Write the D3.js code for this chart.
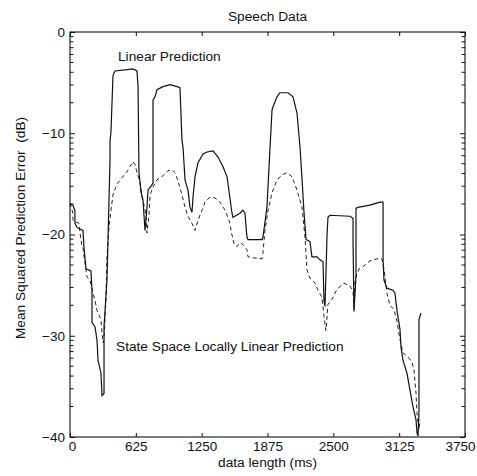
<!DOCTYPE html>
<html>
<head>
<meta charset="utf-8">
<script src="https://cdn.jsdelivr.net/npm/d3@7"></script>
<style>
  body { margin: 0; background: #fff; }
  text { font-family: "Liberation Sans", Arial, sans-serif; fill: #111; }
</style>
</head>
<body>
<div id="chart"></div>
<script>
// Speech data: mean squared prediction error vs data length //
const width = 477;
const height = 476;
const margin = { top: 32, right: 12, bottom: 39, left: 70 };

// Linear prediction (solid)
const lpTime = [0, 28, 47, 47, 66, 104, 123, 133, 152, 199, 209, 209, 237, 256, 266, 294, 304, 323, 323, 351,
  361, 380, 380, 389, 408, 427, 522, 598, 636, 646, 655, 674, 693, 712, 731, 741, 778, 788, 788, 807,
  826, 883, 949, 1016, 1044, 1063, 1073, 1092, 1111, 1120, 1139, 1158, 1168, 1187, 1215, 1263, 1301, 1358, 1405, 1453,
  1491, 1538, 1547, 1614, 1642, 1661, 1680, 1690, 1823, 1832, 1870, 1899, 1918, 1927, 1965, 1994, 2070, 2117, 2155, 2184,
  2203, 2222, 2241, 2278, 2297, 2345, 2373, 2402, 2411, 2421, 2440, 2449, 2468, 2658, 2687, 2687, 2696, 2715, 2715, 2744,
  2848, 2943, 2972, 2972, 2981, 3009, 3066, 3085, 3104, 3133, 3142, 3161, 3199, 3228, 3256, 3285, 3294, 3304, 3313, 3313, 3332];
const lpError = [-17.0, -17.1, -17.7, -18.9, -19.3, -19.5, -19.6, -21.3, -23.4, -23.6, -25.5, -28.7, -29.1, -30.4, -32.4, -33.7, -35.9, -35.7, -29.1, -24.5,
  -20.5, -12.6, -10.7, -9.9, -4.3, -3.85, -3.75, -3.65, -3.85, -5.4, -13.9, -15.8, -16.6, -19.6, -17.3, -15.6, -15.1, -14.9, -6.7, -6.4,
  -5.7, -5.4, -5.2, -5.4, -5.5, -10.7, -11.4, -14.6, -15.3, -15.6, -17.3, -17.8, -16.3, -14.3, -12.9, -12.05, -11.85, -11.75, -12.35, -13.3,
  -14.3, -17.9, -18.3, -17.9, -17.6, -17.9, -20.25, -20.5, -20.5, -20.25, -17.3, -11.4, -7.7, -7.4, -6.4, -6.0, -6.0, -6.4, -8.0, -11.4,
  -14.6, -17.9, -20.5, -20.7, -22.2, -22.2, -22.5, -22.7, -26.5, -27.1, -20.15, -18.3, -18.1, -18.2, -18.4, -20.5, -27.6, -24.1, -17.4, -17.3,
  -17.1, -16.8, -16.8, -22.5, -24.5, -25.3, -25.5, -25.8, -27.5, -29.4, -31.1, -32.4, -33.7, -35.4, -37.0, -38.3, -39.6, -39.9, -37.6, -28.4, -27.75];

// State space locally linear prediction (dashed)
const sslTime = [0, 28, 28, 66, 85, 95, 114, 123, 142, 161, 190, 218, 237, 256, 294, 304, 313, 323, 332, 342,
  351, 370, 389, 408, 446, 494, 541, 570, 598, 617, 636, 665, 684, 703, 722, 731, 750, 760, 788, 826,
  883, 930, 968, 997, 1025, 1063, 1092, 1120, 1158, 1187, 1215, 1253, 1282, 1329, 1377, 1424, 1472, 1510, 1538, 1557,
  1585, 1614, 1642, 1680, 1690, 1737, 1823, 1832, 1851, 1880, 1918, 1965, 2013, 2060, 2108, 2155, 2203, 2231, 2250, 2278,
  2326, 2354, 2392, 2411, 2430, 2449, 2487, 2535, 2601, 2658, 2687, 2696, 2706, 2744, 2791, 2848, 2915, 2962, 2981, 3009,
  3038, 3076, 3104, 3133, 3161, 3209, 3247, 3266, 3285, 3294, 3304, 3313, 3323];
const sslError = [-16.9, -17.9, -18.6, -18.8, -18.9, -19.85, -21.2, -21.3, -22.8, -24.2, -24.5, -25.8, -26.5, -27.5, -28.4, -29.7, -30.7, -30.4, -28.4, -26.2,
  -22.2, -19.3, -17.6, -16.1, -15.0, -14.4, -13.8, -13.3, -12.8, -13.1, -13.9, -14.8, -16.3, -17.1, -18.1, -19.85, -18.1, -16.1, -15.3, -14.6,
  -14.2, -13.7, -13.6, -13.9, -14.7, -16.1, -17.3, -18.2, -18.9, -19.6, -18.6, -17.6, -16.8, -16.3, -16.4, -16.8, -17.6, -18.6, -20.05, -20.9,
  -21.2, -20.8, -21.0, -21.5, -22.2, -22.3, -22.4, -21.8, -19.6, -17.6, -15.9, -14.6, -14.1, -13.9, -14.3, -15.6, -17.3, -20.25, -23.5, -24.3,
  -24.8, -25.5, -26.2, -28.05, -29.5, -26.9, -26.4, -25.4, -24.8, -25.1, -25.6, -27.4, -24.4, -23.4, -23.1, -22.6, -22.4, -22.4, -23.4, -25.8,
  -27.0, -27.4, -28.6, -30.4, -31.7, -32.1, -32.6, -33.4, -35.7, -37.6, -38.6, -39.3, -38.3];

const xTicks = [0, 625, 1250, 1875, 2500, 3125, 3750];
const yTicks = [0, -10, -20, -30, -40];

const svg = d3.select("#chart")
  .append("svg")
  .attr("width", width)
  .attr("height", height);

const x = d3.scaleLinear()
  .domain([0, 3750])
  .range([margin.left, width - margin.right]);

const y = d3.scaleLinear()
  .domain([-40, 0])
  .range([height - margin.bottom, margin.top]);

// minor ticks drawn like log decades inside each 10 dB band
const minorTicks = [];
yTicks.slice(1).forEach(base => {
  for (let k = 2; k <= 9; k++) minorTicks.push(base + 10 * Math.log10(k));
});

const fmtY = d => d < 0 ? "\u2212" + Math.abs(d) : String(d);

const styleAxis = g => {
  g.select(".domain").remove();
  g.selectAll(".tick line").attr("stroke", "#111");
  g.selectAll(".tick text").style("font-size", "13.5px").attr("fill", "#111");
};

svg.append("g")
  .attr("transform", `translate(0,${y(-40)})`)
  .call(d3.axisBottom(x).tickValues(xTicks).tickSizeInner(-4).tickSizeOuter(0).tickPadding(4).tickFormat(d => String(d)))
  .call(styleAxis)
  .call(g => g.selectAll(".tick text")
    .attr("dx", d => d === 0 ? 2 : d === 3750 ? -5 : 0));

svg.append("g")
  .attr("transform", `translate(0,${y(0)})`)
  .call(d3.axisTop(x).tickValues(xTicks).tickSizeInner(-4).tickSizeOuter(0).tickFormat(""))
  .call(styleAxis);

svg.append("g")
  .attr("transform", `translate(${x(0)},0)`)
  .call(d3.axisLeft(y).tickValues(yTicks).tickSizeInner(-5).tickSizeOuter(0).tickPadding(5).tickFormat(fmtY))
  .call(styleAxis);

svg.append("g")
  .attr("transform", `translate(${x(3750)},0)`)
  .call(d3.axisRight(y).tickValues(yTicks).tickSizeInner(-5).tickSizeOuter(0).tickFormat(""))
  .call(styleAxis);

// minor ticks left and right
svg.append("g")
  .selectAll("line")
  .data(minorTicks)
  .enter()
  .append("line")
  .attr("x1", x(0)).attr("x2", x(0) + 3.5)
  .attr("y1", d => y(d)).attr("y2", d => y(d))
  .attr("stroke", "#111");

svg.append("g")
  .selectAll("line")
  .data(minorTicks)
  .enter()
  .append("line")
  .attr("x1", x(3750)).attr("x2", x(3750) - 3.5)
  .attr("y1", d => y(d)).attr("y2", d => y(d))
  .attr("stroke", "#111");

// frame
svg.append("rect")
  .attr("x", x(0))
  .attr("y", y(0))
  .attr("width", x(3750) - x(0))
  .attr("height", y(-40) - y(0))
  .attr("fill", "none")
  .attr("stroke", "#111")
  .attr("stroke-width", 1.1);

const line = d3.line()
  .x(d => x(d[0]))
  .y(d => y(d[1]));

svg.append("path")
  .datum(sslTime.map((t, i) => [t, sslError[i]]))
  .attr("fill", "none")
  .attr("stroke", "#222")
  .attr("stroke-width", 1)
  .attr("stroke-dasharray", "4,3")
  .attr("d", line);

svg.append("path")
  .datum(lpTime.map((t, i) => [t, lpError[i]]))
  .attr("fill", "none")
  .attr("stroke", "#111")
  .attr("stroke-width", 1.2)
  .attr("d", line);

// labels
svg.append("text")
  .attr("x", (x(0) + x(3750)) / 2)
  .attr("y", 21)
  .attr("text-anchor", "middle")
  .style("font-size", "13.7px")
  .text("Speech Data");

svg.append("text")
  .attr("x", (x(0) + x(3750)) / 2)
  .attr("y", 467)
  .attr("text-anchor", "middle")
  .style("font-size", "13.7px")
  .text("data length (ms)");

svg.append("text")
  .attr("transform", `translate(25,228) rotate(-90)`)
  .attr("text-anchor", "middle")
  .style("font-size", "13.7px")
  .style("white-space", "pre")
  .text("Mean Squared Prediction Error  (dB)");

svg.append("text")
  .attr("x", 118)
  .attr("y", 61)
  .style("font-size", "13.7px")
  .text("Linear Prediction");

svg.append("text")
  .attr("x", 116)
  .attr("y", 351)
  .style("font-size", "13.7px")
  .text("State Space Locally Linear Prediction");
</script>
</body>
</html>
